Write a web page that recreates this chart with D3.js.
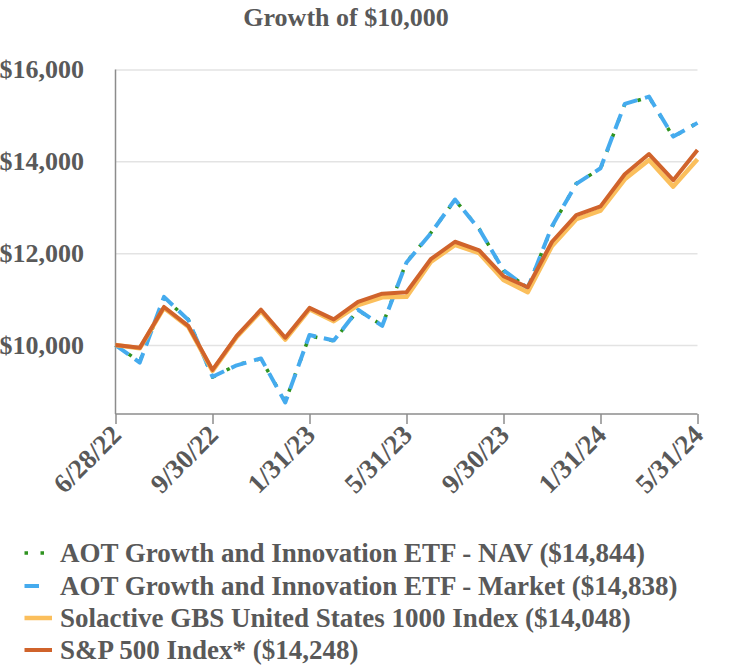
<!DOCTYPE html>
<html>
<head>
<meta charset="utf-8">
<script src="https://cdn.jsdelivr.net/npm/d3@7"></script>
<style>
  html, body { margin: 0; padding: 0; background: #ffffff; }
  svg { display: block; }
  text { font-family: "Liberation Serif", "Times New Roman", serif; font-weight: bold; fill: #595959; }
</style>
</head>
<body>
<svg id="chart" width="748" height="672"></svg>
<script>
const dates = ["6/28/22","6/30/22","7/31/22","8/31/22","9/30/22","10/31/22","11/30/22","12/31/22",
  "1/31/23","2/28/23","3/31/23","4/30/23","5/31/23","6/30/23","7/31/23","8/31/23",
  "9/30/23","10/31/23","11/30/23","12/31/23","1/31/24","2/29/24","3/31/24","4/30/24","5/31/24"];
const xTickLabels = ["6/28/22","9/30/22","1/31/23","5/31/23","9/30/23","1/31/24","5/31/24"];
const yTickValues = [10000, 12000, 14000, 16000];

const navValues = [10000, 9640, 11020, 10560, 9300, 9570, 9700, 8770, 10200, 10090, 10760, 10430,
  11810, 12440, 13160, 12530, 11620, 11250, 12570, 13520, 13840, 15240, 15400, 14530, 14844];
const marketValues = [10000, 9620, 11050, 10550, 9310, 9560, 9710, 8750, 10220, 10100, 10770, 10420,
  11800, 12430, 13170, 12520, 11630, 11240, 12590, 13510, 13850, 15250, 15410, 14540, 14838];
const solactiveValues = [10000, 9930, 10810, 10400, 9440, 10180, 10740, 10120, 10780, 10520, 10870, 11040,
  11050, 11810, 12180, 12000, 11420, 11150, 12160, 12740, 12930, 13610, 14030, 13450, 14048];
const sp500Values = [10000, 9940, 10830, 10420, 9460, 10200, 10770, 10160, 10810, 10560, 10940, 11120,
  11150, 11870, 12250, 12060, 11500, 11260, 12250, 12830, 13020, 13720, 14160, 13590, 14248];

const seriesNames = ["AOT Growth and Innovation ETF - NAV ($14,844)",
  "AOT Growth and Innovation ETF - Market ($14,838)",
  "Solactive GBS United States 1000 Index ($14,048)",
  "S&P 500 Index* ($14,248)"];

const series = [
  {name: seriesNames[0], values: navValues, color: "#2f9320", width: 3.5, dash: "3.5 12.5"},
  {name: seriesNames[1], values: marketValues, color: "#45abee", width: 4, dash: "16 8"},
  {name: seriesNames[2], values: solactiveValues, color: "#fbbf5c", width: 4.5, dash: null},
  {name: seriesNames[3], values: sp500Values, color: "#d0632b", width: 4, dash: null}
];

const svg = d3.select("#chart");
const pLeft = 115.5, pRight = 697.5, pTop = 69.5, pBottom = 414;

const x = d3.scalePoint().domain(dates).range([pLeft, pRight]);
const y = d3.scaleLinear().domain([8500, 16000]).range([pBottom, pTop]);

// title
svg.append("text").attr("x", 346).attr("y", 26).attr("text-anchor", "middle")
  .style("font-size", "26px").text("Growth of $10,000");

// gridlines
const grid = svg.append("g").attr("transform", `translate(${pLeft},0)`)
  .call(d3.axisLeft(y).tickValues(yTickValues).tickSize(-(pRight - pLeft)).tickFormat(""));
grid.select(".domain").remove();
grid.selectAll("line").attr("stroke", "#e3e3e3").attr("stroke-width", 1.5);

// y labels
svg.append("g").selectAll("text").data(yTickValues).join("text")
  .attr("x", 84).attr("y", d => y(d)).attr("dy", "0.34em").attr("text-anchor", "end")
  .style("font-size", "26px").text(d => "$" + d3.format(",")(d));

// left axis line
svg.append("line").attr("x1", pLeft).attr("x2", pLeft).attr("y1", pTop).attr("y2", pBottom)
  .attr("stroke", "#8c8c8c").attr("stroke-width", 1.5);

// x axis
const xAxis = svg.append("g").attr("transform", `translate(0,${pBottom})`)
  .call(d3.axisBottom(x).tickValues(xTickLabels).tickSize(10).tickFormat(""));
xAxis.select(".domain").attr("stroke", "#8c8c8c").attr("stroke-width", 1.5).attr("d", `M${pLeft},0H${pRight}`);
xAxis.selectAll("line").attr("stroke", "#8c8c8c").attr("stroke-width", 1.5);

svg.append("g").selectAll("text").data(xTickLabels).join("text")
  .attr("transform", d => `translate(${x(d) - 6},${pBottom + 9}) rotate(-45)`)
  .attr("text-anchor", "end").attr("dy", "0.7em")
  .style("font-size", "27px").text(d => d);

// lines
const line = d3.line().x((d, i) => x(dates[i])).y(d => y(d));
svg.append("g").selectAll("path").data(series).join("path")
  .attr("d", d => line(d.values))
  .attr("fill", "none")
  .attr("stroke", d => d.color)
  .attr("stroke-width", d => d.width)
  .attr("stroke-dasharray", d => d.dash)
  .attr("stroke-linejoin", "round");

// legend
const legendY = [553, 586, 618, 650];
const lg = svg.append("g").selectAll("g").data(series).join("g")
  .attr("transform", (d, i) => `translate(0,${legendY[i]})`);
lg.append("line")
  .attr("x1", 24.5).attr("x2", (d, i) => i === 1 ? 39 : 52).attr("y1", 0).attr("y2", 0)
  .attr("stroke", d => d.color).attr("stroke-width", d => d.width)
  .attr("stroke-dasharray", d => d.dash);
lg.append("text").attr("x", 60).attr("y", 0).attr("dy", "0.34em")
  .style("font-size", "27px").text(d => d.name);
</script>
</body>
</html>
